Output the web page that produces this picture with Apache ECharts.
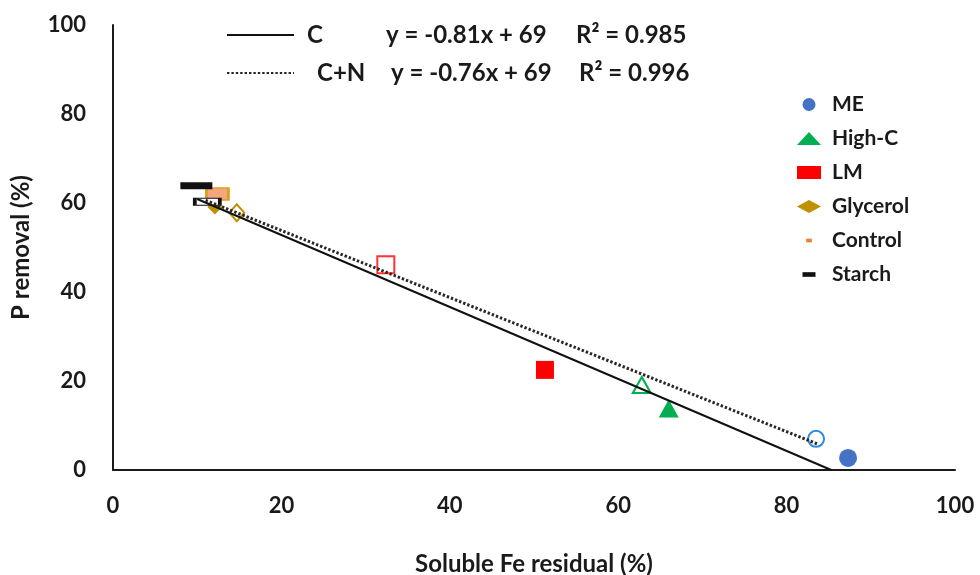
<!DOCTYPE html>
<html>
<head>
<meta charset="utf-8">
<script src="https://cdn.jsdelivr.net/npm/echarts@6/dist/echarts.min.js"></script>
<style>html,body{margin:0;padding:0;background:#fff}#c{width:980px;height:575px}</style>
</head>
<body>
<div id="c"></div>
<script>
// ---- data ----
const categories = ['ME', 'High-C', 'LM', 'Glycerol', 'Control', 'Starch'];
// filled markers (C treatment)
const filledX = [87.3, 66.0, 51.3, 12.1, 12.4, 9.9];
const filledY = [2.7, 13.8, 22.5, 59.1, 62.0, 63.9];
// open markers (C+N treatment); Control open marker not visible
const openX = [83.5, 62.8, 32.4, 14.7, null, 11.2];
const openY = [7.0, 19.1, 46.1, 57.8, null, 60.3];
// trend lines (end points)
const lineNames = ['C', 'C+N'];
const lineC = [[10.0, 60.9], [85.3, 0]];
const lineCN = [[11.0, 60.6], [83.6, 5.9]];
const eqText = ['y = -0.81x + 69', 'y = -0.76x + 69'];
const r2Text = ['R² = 0.985', 'R² = 0.996'];
const xTicks = [0, 20, 40, 60, 80, 100];
const yTicks = [0, 20, 40, 60, 80, 100];

// ---- styles ----
const colors = ['#4472c4', '#00b050', '#ff0000', '#bf9000', '#ed7d31', '#111111'];
const openBorder = ['#2e8be0', '#00b050', '#ff3333', '#bf9000', '#ed7d31', '#111111'];
const symbols = ['circle', 'triangle', 'rect', 'diamond', 'rect', 'rect'];
const filledSize = [18, [20, 18], 18, 15, [22, 12], [32, 7]];
const openSize = [16, [18, 16], 17, [15, 17], [22, 12], [25, 7]];
const FONT = 'Lato, "Open Sans", sans-serif';
const TXT = '#1a1a1a';

const scatterSeries = categories.map((name, i) => {
  const data = [];
  if (filledX[i] != null) {
    const d = { value: [filledX[i], filledY[i]], symbolSize: filledSize[i] };
    if (name === 'Control') d.itemStyle = { color: '#f4a77e', borderColor: '#d9a11a', borderWidth: 2 };
    data.push(d);
  }
  if (openX[i] != null) {
    data.push({
      value: [openX[i], openY[i]], symbolSize: openSize[i],
      itemStyle: { color: '#ffffff', borderColor: openBorder[i], borderWidth: 2 }
    });
  }
  return {
    name, type: 'scatter', symbol: symbols[i], z: 2,
    itemStyle: { color: colors[i], opacity: 1 },
    data
  };
});
// draw order: put Glycerol below Control/Starch like the reference
const orderedScatter = [3, 4, 5, 2, 1, 0].map(i => scatterSeries[i]);

const lineSeries = [
  { name: lineNames[0], type: 'line', data: lineC, symbol: 'none', z: 5,
    itemStyle: { color: '#111' },
    lineStyle: { color: '#111', width: 2, type: 'solid' } },
  { name: lineNames[1], type: 'line', data: lineCN, symbol: 'none', z: 5,
    itemStyle: { color: '#2a2622' },
    lineStyle: { color: '#2a2622', width: 3, type: [2.4, 2] } }
];

const legendIcons = {
  'ME': 'circle', 'High-C': 'triangle', 'LM': 'rect', 'Glycerol': 'diamond',
  'Control': 'path://M0,0M9,5h6v4H9zM24,14',
  'Starch': 'path://M0,0M5,4.5h14v5H5zM24,14'
};

const EQ = { fontFamily: FONT, fontWeight: 'bold', fontSize: 24, lineHeight: 24, color: TXT };

const chart = echarts.init(document.getElementById('c'), null, { renderer: 'canvas' });
chart.setOption({
  animation: false,
  backgroundColor: '#ffffff',
  textStyle: { fontFamily: FONT },
  grid: { left: 113, right: 25, top: 25, bottom: 105, containLabel: false, outerBoundsMode: 'none' },
  xAxis: {
    type: 'value', min: xTicks[0], max: xTicks[xTicks.length - 1], interval: 20,
    name: 'Soluble Fe residual (%)', nameLocation: 'middle', nameGap: 82,
    nameTextStyle: { fontFamily: FONT, fontWeight: 'bold', fontSize: 24, color: TXT },
    axisLine: { show: true, onZero: false, lineStyle: { color: '#1a1a1a', width: 2 } },
    axisTick: { show: false }, splitLine: { show: false },
    axisLabel: { margin: 25, fontFamily: FONT, fontWeight: 'bold', fontSize: 22, color: TXT }
  },
  yAxis: {
    type: 'value', min: yTicks[0], max: yTicks[yTicks.length - 1], interval: 20,
    name: 'P removal (%)', nameLocation: 'middle', nameGap: 80,
    nameTextStyle: { fontFamily: FONT, fontWeight: 'bold', fontSize: 24, color: TXT },
    axisLine: { show: true, onZero: false, lineStyle: { color: '#1a1a1a', width: 2 } },
    axisTick: { show: false }, splitLine: { show: false },
    axisLabel: { margin: 27, fontFamily: FONT, fontWeight: 'bold', fontSize: 22, color: TXT }
  },
  legend: [
    {
      data: lineNames, orient: 'vertical', left: 221, top: 18,
      itemWidth: 67, itemHeight: 14, itemGap: 14, selectedMode: false,
      itemStyle: { opacity: 0 },
      formatter: function (name) {
        const i = lineNames.indexOf(name);
        return i === 0
          ? '{p1| }{n1|' + name + '}{e1|' + eqText[i] + '}{r|' + r2Text[i] + '}'
          : '{p2| }{n2|' + name + '}{e2|' + eqText[i] + '}{r|' + r2Text[i] + '}';
      },
      textStyle: Object.assign({}, EQ, {
        rich: {
          p1: Object.assign({}, EQ, { width: 8 }),
          p2: Object.assign({}, EQ, { width: 18 }),
          n1: Object.assign({}, EQ, { width: 79 }),
          n2: Object.assign({}, EQ, { width: 74 }),
          e1: Object.assign({}, EQ, { width: 190 }),
          e2: Object.assign({}, EQ, { width: 188 }),
          r: Object.assign({}, EQ)
        }
      })
    },
    {
      data: categories.map(n => ({ name: n, icon: legendIcons[n] })),
      orient: 'vertical', left: 792, top: 89,
      itemWidth: 24, itemHeight: 13, itemGap: 13, selectedMode: false,
      textStyle: { fontFamily: FONT, fontWeight: 'bold', fontSize: 21, color: TXT,
                   lineHeight: 21, padding: [0, 0, 0, 6] }
    }
  ],
  series: orderedScatter.concat(lineSeries)
});
</script>
</body>
</html>
